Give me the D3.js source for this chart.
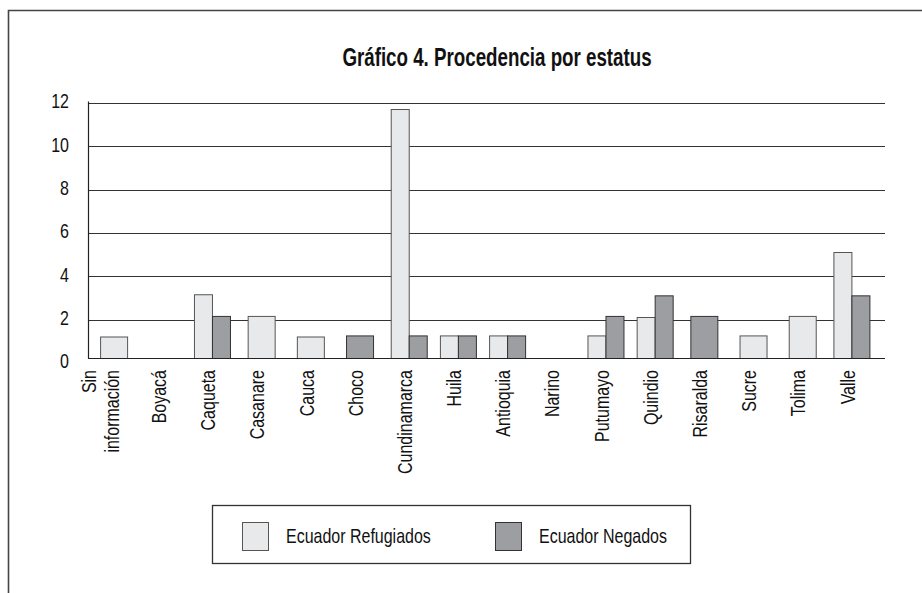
<!DOCTYPE html>
<html>
<head>
<meta charset="utf-8">
<script src="https://cdn.jsdelivr.net/npm/d3@7"></script>
<style>
  body { margin: 0; background: #fff; }
  text { font-family: "Liberation Sans", Arial, sans-serif; fill: #111; }
</style>
</head>
<body>
<div id="container"></div>
<script>
// data
let categories = ['Sin información', 'Boyacá', 'Caqueta', 'Casanare', 'Cauca', 'Choco', 'Cundinamarca',
  'Huila', 'Antioquia', 'Narino', 'Putumayo', 'Quindio', 'Risaralda', 'Sucre', 'Tolima', 'Valle']
let refugiados = [1.2, 0, 3.15, 2.15, 1.2, 0, 11.7, 1.25, 1.25, 0, 1.25, 2.1, 0, 1.25, 2.15, 5.1]
let negados = [0, 0, 2.15, 0, 0, 1.25, 1.25, 1.25, 1.25, 0, 2.15, 3.1, 2.15, 0, 0, 3.1]
let seriesNames = ['Ecuador Refugiados', 'Ecuador Negados']
let yTicks = [0, 2, 4, 6, 8, 10, 12]

let width = 922,
  height = 593

let colors = ['#e8e9eb', '#9d9ea2'],
  strokes = ['#555', '#333']

// no narrow font installed, so squeeze Liberation Sans like a condensed face
let narrow = ' scale(0.78,1)'
let fontSize = '20.5px'

let svg = d3.select('#container')
  .append('svg')
  .attr('width', width)
  .attr('height', height)

// outer frame (only top and left edges show)
svg.append('path')
  .attr('d', 'M8.5,' + height + 'V10.5H' + width)
  .attr('fill', 'none')
  .attr('stroke', '#444')
  .attr('stroke-width', 1.6)

svg.append('text')
  .attr('transform', 'translate(497,66) scale(0.75,1)')
  .attr('text-anchor', 'middle')
  .style('font-size', '25px')
  .style('font-weight', 'bold')
  .text('Gráfico 4. Procedencia por estatus')

let x = d3.scaleBand().domain(categories).range([89, 876])
let y = d3.scaleLinear().domain([0, 12]).range([363, 103])
let gridRight = 885
let baseY = 358.5 // the baseline sits a bit above y(0) in the original

// gridlines
svg.append('g')
  .selectAll('line')
  .data(yTicks.filter(d => d > 0))
  .join('line')
  .attr('x1', 88).attr('x2', gridRight)
  .attr('y1', d => Math.round(y(d)) + 0.5)
  .attr('y2', d => Math.round(y(d)) + 0.5)
  .attr('stroke', '#333')
  .attr('stroke-width', 1.2)

// tick labels
svg.append('g')
  .selectAll('text')
  .data(yTicks)
  .join('text')
  .attr('transform', d => 'translate(69,' + (y(d) - 2) + ')' + narrow)
  .attr('dy', '0.35em')
  .attr('text-anchor', 'end')
  .style('font-size', fontSize)
  .text(d => d)

// bars
let rows = categories.map((c, i) => ({ cat: c, vals: [refugiados[i], negados[i]] }))
let bars = []
rows.forEach(r => {
  let cx = x(r.cat) + x.bandwidth() / 2
  let present = [0, 1].filter(s => r.vals[s] > 0)
  present.forEach((s, k) => {
    let w = present.length === 2 ? 18 : 27
    let x0 = present.length === 2 ? cx - 18 + k * 18 : cx - w / 2
    bars.push({ s: s, v: r.vals[s], x: x0, w: w })
  })
})

svg.append('g')
  .selectAll('rect')
  .data(bars)
  .join('rect')
  .attr('x', d => d.x + 0.5)
  .attr('y', d => y(d.v))
  .attr('width', d => d.w)
  .attr('height', d => baseY - y(d.v))
  .attr('fill', d => colors[d.s])
  .attr('stroke', d => strokes[d.s])
  .attr('stroke-width', 1)

// axes lines
svg.append('line')
  .attr('x1', 88.5).attr('x2', 88.5)
  .attr('y1', 101.5).attr('y2', baseY)
  .attr('stroke', '#222').attr('stroke-width', 1.2)
svg.append('line')
  .attr('x1', 88).attr('x2', gridRight)
  .attr('y1', baseY).attr('y2', baseY)
  .attr('stroke', '#222').attr('stroke-width', 1.2)

// category labels, rotated
let labels = svg.append('g')
  .selectAll('text')
  .data(categories)
  .join('text')
  .attr('transform', d => 'translate(' + (x(d) + x.bandwidth() / 2 - 4) + ',370) rotate(-90)' + narrow)
  .attr('text-anchor', 'end')
  .style('font-size', fontSize)

labels.each(function (d) {
  let lines = d.split(' ')
  let t = d3.select(this)
  if (lines.length === 1) {
    t.append('tspan').attr('x', 0).attr('dy', '0.35em').text(d)
  } else {
    t.append('tspan').attr('x', 0).attr('y', 0).attr('dy', '-0.68em').text(lines[0])
    t.append('tspan').attr('x', 0).attr('y', 0).attr('dy', '0.47em').text(lines[1])
  }
})

// legend
let legend = svg.append('g')
legend.append('rect')
  .attr('x', 212.5).attr('y', 505.5)
  .attr('width', 478).attr('height', 58)
  .attr('fill', 'none')
  .attr('stroke', '#333')
  .attr('stroke-width', 1.3)

let items = legend.selectAll('g.item')
  .data(seriesNames)
  .join('g')
  .attr('class', 'item')
  .attr('transform', (d, i) => 'translate(' + (242 + i * 253) + ',522)')

items.append('rect')
  .attr('x', 0.5).attr('y', 0.5)
  .attr('width', 26).attr('height', 28)
  .attr('fill', (d, i) => colors[i])
  .attr('stroke', (d, i) => strokes[i])

items.append('text')
  .attr('transform', 'translate(44,14)' + narrow)
  .attr('dy', '0.35em')
  .style('font-size', fontSize)
  .text(d => d)
</script>
</body>
</html>
